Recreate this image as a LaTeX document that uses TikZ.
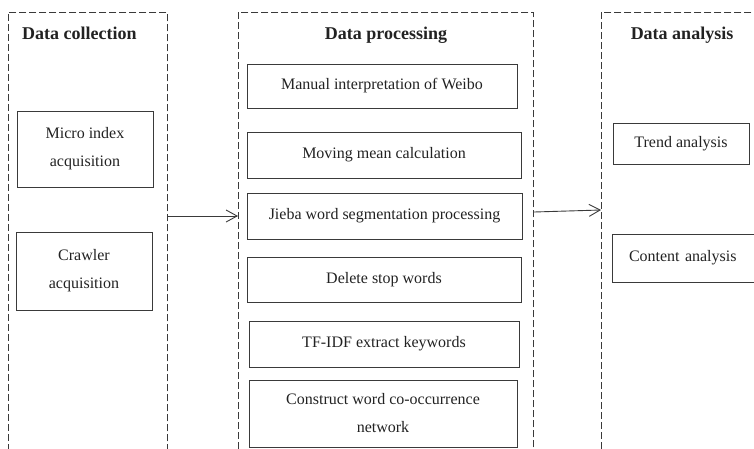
\documentclass[tikz,border=0pt]{standalone}
\usepackage{fontspec}
\setmainfont{Liberation Serif}
\usetikzlibrary{arrows.meta}
\definecolor{inkgray}{HTML}{222222}
\definecolor{linegray}{HTML}{3A3A3A}
\begin{document}
\begin{tikzpicture}[x=1pt,y=-1pt,
  panel/.style={draw=linegray, line width=0.9pt, dash pattern=on 7pt off 3pt,
    anchor=north west, inner sep=0pt},
  stagebox/.style={draw=linegray, line width=0.9pt, text=inkgray, align=center,
    inner sep=0pt, font=\fontsize{16}{28}\selectfont},
  paneltitle/.style={text=inkgray, inner sep=0pt, anchor=base,
    font=\fontsize{18}{22}\selectfont\bfseries},
  flow/.style={draw=linegray, line width=0.9pt,
    -{Straight Barb[length=11pt,width=12pt,line width=0.9pt]}}]
\useasboundingbox (0,0) rectangle (754,448);
\clip (0,0) rectangle (754,448);

% three dashed stage panels
\node[panel, minimum width=159pt, minimum height=460pt] (colpanel) at (8,12) {};
\node[panel, minimum width=295pt, minimum height=460pt] (procpanel) at (238,12) {};
\node[panel, minimum width=170pt, minimum height=460pt] (anapanel) at (601,12) {};

% panel titles
\node[paneltitle, anchor=base west] (coltitle) at (22,39) {Data collection};
\node[paneltitle] (proctitle) at (386,39) {Data processing};
\node[paneltitle] (anatitle) at (682,39) {Data analysis};

% data collection
\node[stagebox, minimum width=136pt, minimum height=76pt] (micro) at (85,149)
  {Micro index\\acquisition};
\node[stagebox, minimum width=136pt, minimum height=78pt] (crawler) at (84,271)
  {Crawler\\acquisition};

% data processing
\node[stagebox, minimum width=270pt, minimum height=44pt] (manual) at (382,86)
  {Manual interpretation of Weibo};
\node[stagebox, minimum width=274pt, minimum height=46pt] (moving) at (384,155)
  {Moving mean calculation};
\node[stagebox, minimum width=275pt, minimum height=46pt] (jieba) at (384.5,216)
  {Jieba word segmentation processing};
\node[stagebox, minimum width=274pt, minimum height=45pt] (stopw) at (384,279.5)
  {Delete stop words};
\node[stagebox, minimum width=270pt, minimum height=46pt] (tfidf) at (384,344)
  {TF-IDF extract keywords};
\node[stagebox, minimum width=268pt, minimum height=67pt] (cooc) at (383,413.5)
  {Construct word co-occurrence\\network};

% data analysis
\node[stagebox, minimum width=136pt, minimum height=41pt] (trend) at (681,143.5)
  {Trend analysis};
\node[stagebox, minimum width=144pt, minimum height=48pt, text width=144pt,
  align=left] (content) at (684,258)
  {\hspace*{17pt}Content analysis};

% flow between stages
\coordinate (flowAstart) at (colpanel.east |- jieba.center);
\coordinate (flowBstart) at (534,212);
\coordinate (flowBend) at (601,210);
\draw[flow] (flowAstart) -- (procpanel.west |- jieba.center);
\draw[flow] (flowBstart) -- (flowBend);
\end{tikzpicture}
\end{document}
